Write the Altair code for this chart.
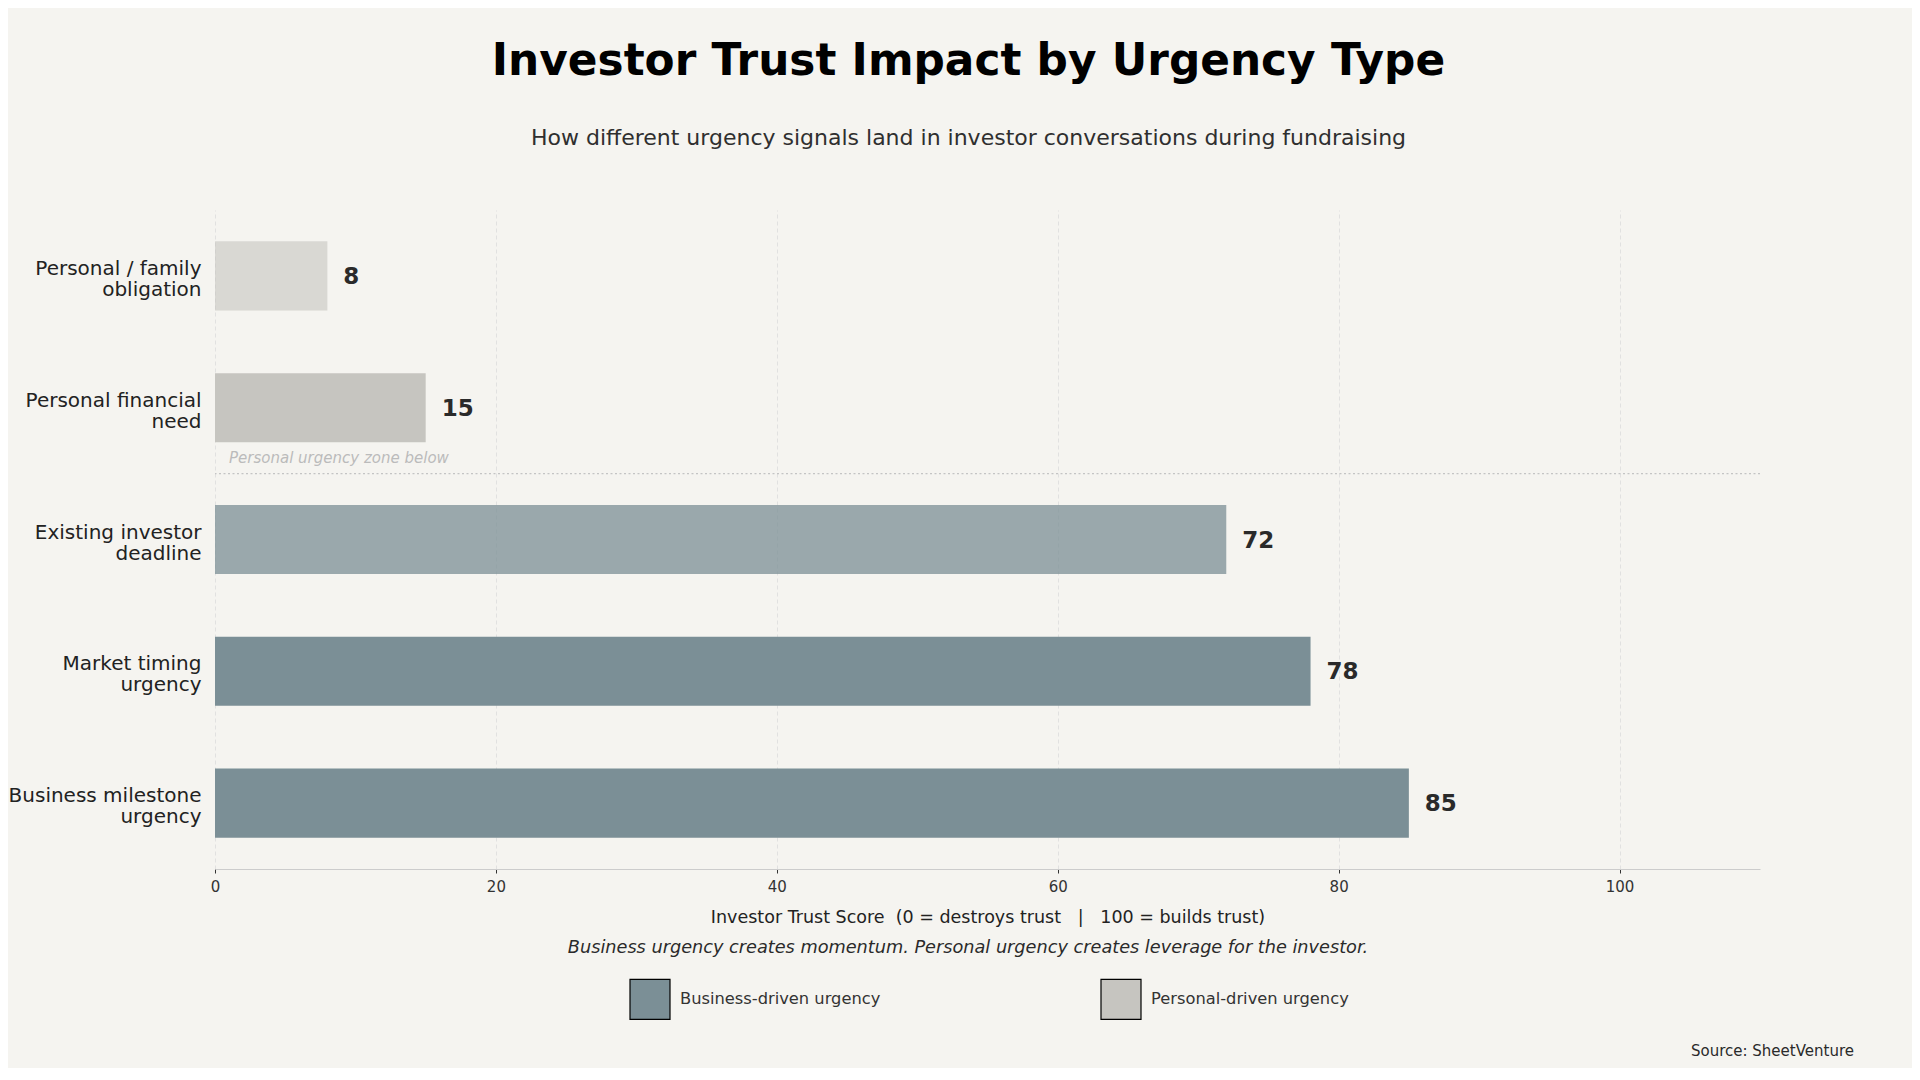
import altair as alt
import pandas as pd

categories = [
    "Personal / family\nobligation",
    "Personal financial\nneed",
    "Existing investor\ndeadline",
    "Market timing\nurgency",
    "Business milestone\nurgency",
]
values = [8, 15, 72, 78, 85]
groups = [
    "Personal-driven urgency",
    "Personal-driven urgency",
    "Business-driven urgency",
    "Business-driven urgency",
    "Business-driven urgency",
]
alphas = [0.6, 1.0, 0.75, 1.0, 1.0]
legend_names = ["Business-driven urgency", "Personal-driven urgency"]
legend_colors = ["#7b8f96", "#c6c5c0"]
x_ticks = [0, 20, 40, 60, 80, 100]

FONT = "DejaVu Sans"
BG = "#f5f4f0"
W, H = 1545, 659
STEP = H / len(categories)

df = pd.DataFrame({"category": categories, "value": values, "group": groups, "alpha": alphas})
one = pd.DataFrame({"k": [0]})

y_enc = alt.Y(
    "category:N",
    sort=categories,
    scale=alt.Scale(paddingInner=0.476, paddingOuter=0.238),
    axis=alt.Axis(
        title=None, domain=False, ticks=False, labelFontSize=20, labelColor="#222222",
        labelPadding=14, labelLineHeight=21, labelFont=FONT, labelLimit=0,
        labelOffset=-7,
        labelExpr="split(datum.label, '\\n')", grid=False,
    ),
)
x_enc = alt.X(
    "value:Q",
    scale=alt.Scale(domain=[0, 110], nice=False, zero=True),
    axis=alt.Axis(
        values=x_ticks, grid=True, gridColor="#dcdcdc", gridDash=[4, 3], gridWidth=0.8,
        domain=True, domainColor="#cccccc", domainWidth=1.2,
        ticks=True, tickColor="#333333", tickSize=4, tickWidth=1,
        labelFontSize=15, labelColor="#333333", labelPadding=6, labelFont=FONT,
        labelFlush=False,
        title="Investor Trust Score\u00a0 (0 = destroys trust\u00a0\u00a0 |\u00a0\u00a0 100 = builds trust)",
        titleFontSize=17.5, titleFontWeight="normal", titleColor="#222222", titleFont=FONT,
        titlePadding=14.5,
    ),
)

bars = alt.Chart(df).mark_bar().encode(
    y=y_enc,
    x=x_enc,
    color=alt.Color(
        "group:N",
        scale=alt.Scale(domain=legend_names, range=legend_colors),
        legend=alt.Legend(
            title=None, orient="none", direction="horizontal",
            legendX=414, legendY=768, padding=0,
            symbolType="square", symbolSize=1600, symbolStrokeColor="black",
            symbolStrokeWidth=1.2, symbolOpacity=1,
            labelFontSize=16.3, labelColor="#333333", labelFont=FONT, labelLimit=0,
            labelOffset=9, columnPadding=217,
        ),
    ),
    opacity=alt.Opacity("alpha:Q", scale=None, legend=None),
)

labels = alt.Chart(df).mark_text(
    align="left", baseline="middle", dx=16, dy=1, fontSize=23, fontWeight="bold",
    color="#2a2a2a", font=FONT,
).encode(y=alt.Y("category:N", sort=categories), x=alt.X("value:Q"), text=alt.Text("value:Q"))

separator = alt.Chart(one).mark_rule(
    color="#c4c4c4", strokeDash=[2, 2.5], strokeWidth=1.3, yOffset=-STEP / 2,
).encode(y=alt.YDatum(categories[2], type="nominal"))

zone_note = alt.Chart(one).mark_text(
    align="left", baseline="middle", dy=50, fontSize=15, fontStyle="italic",
    color="#bbbbbb", font=FONT,
).encode(
    y=alt.YDatum(categories[1], type="nominal"),
    x=alt.XDatum(1.0, type="quantitative"),
    text=alt.value("Personal urgency zone below"),
)

caption = alt.Chart(one).mark_text(
    align="center", baseline="middle", fontSize=17.7, fontStyle="italic",
    color="#2a2a2a", font=FONT,
).encode(
    x=alt.value(753), y=alt.value(738),
    text=alt.value("Business urgency creates momentum. Personal urgency creates leverage for the investor."),
)

source = alt.Chart(one).mark_text(
    align="right", baseline="middle", fontSize=15, color="#2a2a2a", font=FONT,
).encode(x=alt.value(1639), y=alt.value(841), text=alt.value("Source: SheetVenture"))

chart = alt.layer(bars, labels, separator, zone_note, caption, source).properties(
    width=W,
    height=H,
    autosize=alt.AutoSizeParams(type="none"),
    padding={"left": 207, "top": 202, "right": 152, "bottom": 199},
    background=BG,
    title=alt.TitleParams(
        text="Investor Trust Impact by Urgency Type",
        subtitle="How different urgency signals land in investor conversations during fundraising",
        font=FONT, fontSize=43.8, fontWeight="bold", color="#000000",
        subtitleFont=FONT, subtitleFontSize=22, subtitleColor="#2f2f2f",
        anchor="middle", offset=61.5, subtitlePadding=44, dx=-19,
    ),
).configure_view(stroke=None)

chart.save("out.html", embed_options={"renderer": "svg", "actions": False})
